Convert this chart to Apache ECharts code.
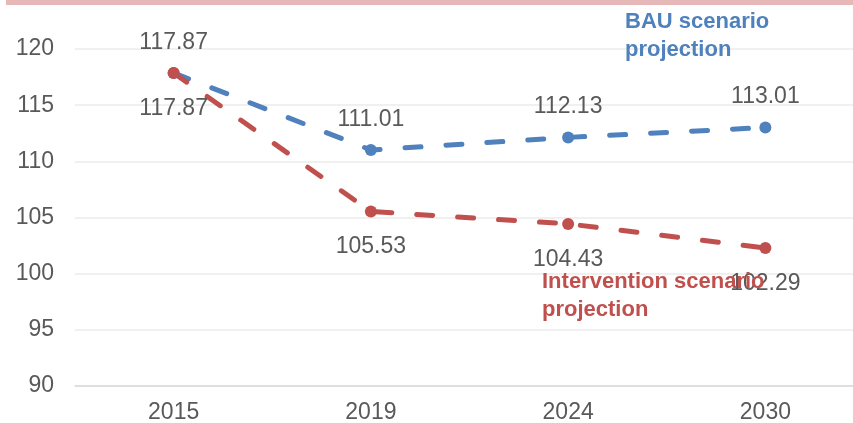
<!DOCTYPE html>
<html>
<head>
    <meta charset="utf-8">
    <title>scenario projection</title>
    <script src="https://cdn.jsdelivr.net/npm/echarts@6/dist/echarts.min.js"></script>
    <style>
        body{margin:0;background:#fff;overflow:hidden;}
        #topBar{position:absolute;left:6px;top:0;width:847px;height:5px;background:#e6b9b8;z-index:2;}
    </style>
</head>
<body>
<div id="topBar"></div>
<!-- a bit wider than the window: the plot area runs past the right edge -->
<div id="lineChart" style="width:870px;height:423px;"></div>

<script type="text/javascript">
    var years        = ['2015', '2019', '2024', '2030'];
    var bauValues    = [117.87, 111.01, 112.13, 113.01];
    var interValues  = [117.87, 105.53, 104.43, 102.29];
    var yTicks       = [90, 95, 100, 105, 110, 115, 120];

    var gray = '#595959';
    var blue = '#4f81bd';
    var red  = '#c0504d';
    var font = 'Liberation Sans';

    var option = {
        animation:false,
        backgroundColor:'transparent',
        grid:{left:75, width:789, top:49, bottom:37, outerBoundsMode:'none'},
        xAxis:{
            type:'category',
            data:years,
            boundaryGap:true,
            axisLine:{show:true, lineStyle:{color:'#d9d9d9', width:1.5}},
            axisTick:{show:false},
            axisLabel:{color:gray, fontSize:23, margin:15, fontFamily:font}
        },
        yAxis:{
            type:'value',
            min:yTicks[0],
            max:yTicks[yTicks.length-1],
            interval:5,
            axisLine:{show:false},
            axisTick:{show:false},
            axisLabel:{color:gray, fontSize:23, margin:21, fontFamily:font},
            splitLine:{lineStyle:{color:'#ebebeb', width:1.5}}
        },
        series:[{
            name:'BAU scenario projection',
            type:'line',
            data:bauValues,
            symbol:'circle',
            symbolSize:12,
            itemStyle:{color:blue},
            lineStyle:{color:blue, width:5, type:[16,25], cap:'round'},
            label:{
                show:true,
                position:'top',
                distance:13,
                color:gray,
                fontSize:23,
                fontFamily:font,
                formatter:function(p){return p.value.toFixed(2);}
            }
        },{
            name:'Intervention scenario projection',
            type:'line',
            data:interValues,
            symbol:'circle',
            symbolSize:12,
            itemStyle:{color:red},
            lineStyle:{color:red, width:5, type:[16,25], cap:'round'},
            label:{
                show:true,
                position:'bottom',
                distance:18,
                color:gray,
                fontSize:23,
                fontFamily:font,
                formatter:function(p){return p.value.toFixed(2);}
            }
        }],
        graphic:[{
            type:'text',
            left:625,
            top:8,
            z:100,
            style:{
                text:'BAU scenario\nprojection',
                fill:blue,
                font:'bold 22px "Liberation Sans"',
                lineHeight:28
            }
        },{
            type:'text',
            left:542,
            top:268,
            z:100,
            style:{
                text:'Intervention scenario\nprojection',
                fill:red,
                font:'bold 22px "Liberation Sans"',
                lineHeight:28
            }
        }]
    };

    echarts.init(document.getElementById('lineChart')).setOption(option);
</script>
</body>
</html>
